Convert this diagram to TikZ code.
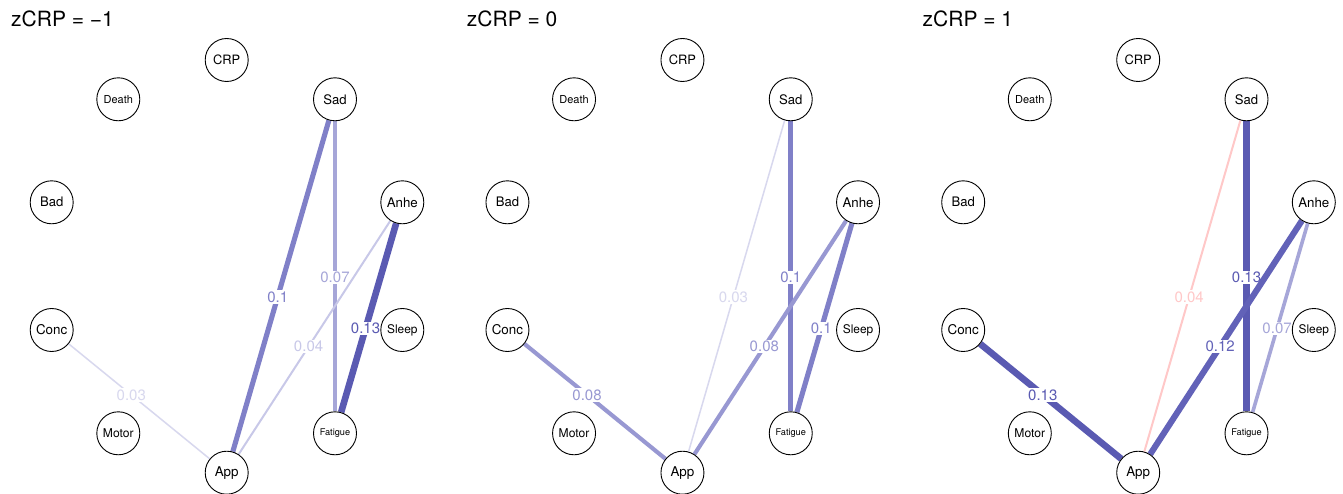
\documentclass[tikz,border=0pt]{standalone}
\usepackage{fontspec}
\setmainfont{TeX Gyre Heros}
\definecolor{cA}{RGB}{90,90,178}
\definecolor{cB}{RGB}{98,98,184}
\definecolor{cC}{RGB}{128,128,200}
\definecolor{cD}{RGB}{152,152,210}
\definecolor{cE}{RGB}{166,166,216}
\definecolor{cF}{RGB}{200,200,232}
\definecolor{cG}{RGB}{216,216,238}
\definecolor{cP}{RGB}{255,200,200}
\pgfdeclarelayer{bg}
\pgfsetlayers{bg,main}
\tikzset{
  nd/.style={circle,draw=black,line width=0.9pt,fill=white,minimum size=43pt,inner sep=0pt},
  ttl/.style={anchor=base west,inner sep=0pt,font=\fontsize{21}{21}\selectfont},
  lbl/.style={fill=white,inner sep=1.2pt,font=\fontsize{15}{15}\selectfont},
}
\newcommand\fs[1]{\fontsize{#1}{#1}\selectfont}
\newcommand\mknodes[3]{%
  \begin{scope}[xshift=#2pt]
    \node[ttl] (#1T) at (11,27) {#3};
    \node[nd] (#1CRP) at (226.7,60) {\fs{12.9}CRP};
    \node[nd] (#1Death) at (118.3,99.3) {\fs{11}Death};
    \node[nd] (#1Sad) at (335,99.3) {\fs{13.1}Sad};
    \node[nd] (#1Bad) at (51.7,202.3) {\fs{13.1}Bad};
    \node[nd] (#1Anhe) at (402.3,202.3) {\fs{13.3}Anhe};
    \node[nd] (#1Conc) at (51.7,330) {\fs{13.4}Conc};
    \node[nd] (#1Sleep) at (402.3,330) {\fs{11.9}Sleep};
    \node[nd] (#1Motor) at (118.3,433.3) {\fs{12.1}Motor};
    \node[nd] (#1Fatigue) at (335,433.3) {\fs{9.2}Fatigue};
    \node[nd] (#1App) at (226.7,472.7) {\fs{13.4}App};
  \end{scope}}
% #1 from, #2 to, #3 width, #4 colour, #5 pos, #6 text
\newcommand\edg[6]{\draw[line width=#3pt,draw=#4] (#1) -- node[lbl,text=#4,pos=#5] {#6} (#2);}
\begin{document}
\begin{tikzpicture}[x=1pt,y=-1pt]
\useasboundingbox (0,0) rectangle (1343,494);
\mknodes{a}{0}{zCRP = −1}
\mknodes{b}{455.75}{zCRP = 0}
\mknodes{c}{911.5}{zCRP = 1}
\begin{pgfonlayer}{bg}
  \fill[white] (0,0) rectangle (1343,494);
  % panel 1
  \edg{aConc}{aApp}{1.5}{cG}{0.444}{0.03}
  \edg{aApp}{aSad}{5.1}{cC}{0.467}{0.1}
  \edg{aFatigue}{aSad}{3.6}{cE}{0.462}{0.07}
  \edg{aApp}{aAnhe}{2.0}{cF}{0.461}{0.04}
  \edg{aFatigue}{aAnhe}{6.6}{cA}{0.444}{0.13}
  % panel 2
  \edg{bConc}{bApp}{4.1}{cD}{0.444}{0.08}
  \edg{bApp}{bSad}{1.5}{cG}{0.467}{0.03}
  \edg{bFatigue}{bSad}{5.1}{cC}{0.462}{0.1}
  \edg{bApp}{bAnhe}{4.1}{cD}{0.461}{0.08}
  \edg{bFatigue}{bAnhe}{5.1}{cC}{0.444}{0.1}
  % panel 3
  \edg{cConc}{cApp}{6.6}{cA}{0.444}{0.13}
  \edg{cApp}{cSad}{2.0}{cP}{0.467}{0.04}
  \edg{cFatigue}{cSad}{6.6}{cA}{0.462}{0.13}
  \edg{cApp}{cAnhe}{6.1}{cB}{0.461}{0.12}
  \edg{cFatigue}{cAnhe}{3.6}{cE}{0.444}{0.07}
\end{pgfonlayer}
\end{tikzpicture}
\end{document}
